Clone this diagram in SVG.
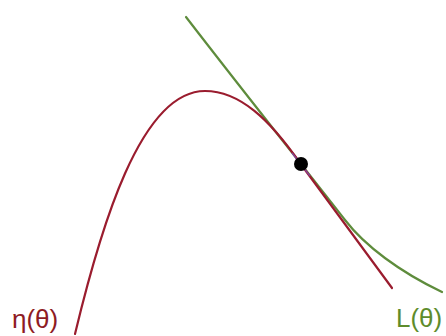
<svg xmlns="http://www.w3.org/2000/svg" width="446" height="336" viewBox="0 0 446 336">
<style>
.curve{fill:none;stroke-width:2.2;stroke-linecap:round;stroke-linejoin:round}
.eta{stroke:#9a1c2e}
.lb{stroke:#5e8c3c}
.lbl{font-family:"Liberation Sans",Arial,sans-serif;font-size:26px}
</style>
<rect width="446" height="336" fill="#ffffff"/>
<g id="connectors">
<path class="curve lb" d="M186,17 C250,100 310,175 345,220 C365,246 400,272 442,292"/>
<path class="curve eta" d="M75,334 C100,230 140,91 205,91 C240,91 270,120 300,163 L392,288"/>
<line x1="292" y1="153" x2="310" y2="176" stroke="#7b5cd6" stroke-width="1.5" opacity="0.6"/>
</g>
<g id="eta">
<text class="lbl" x="12" y="328" fill="#8e1b24">η(θ)</text>
</g>
<g id="L">
<text class="lbl" x="396" y="327" fill="#5e8c2c">L(θ)</text>
</g>
<g id="point">
<circle cx="301" cy="164" r="7" fill="#000000"/>
</g>
</svg>
